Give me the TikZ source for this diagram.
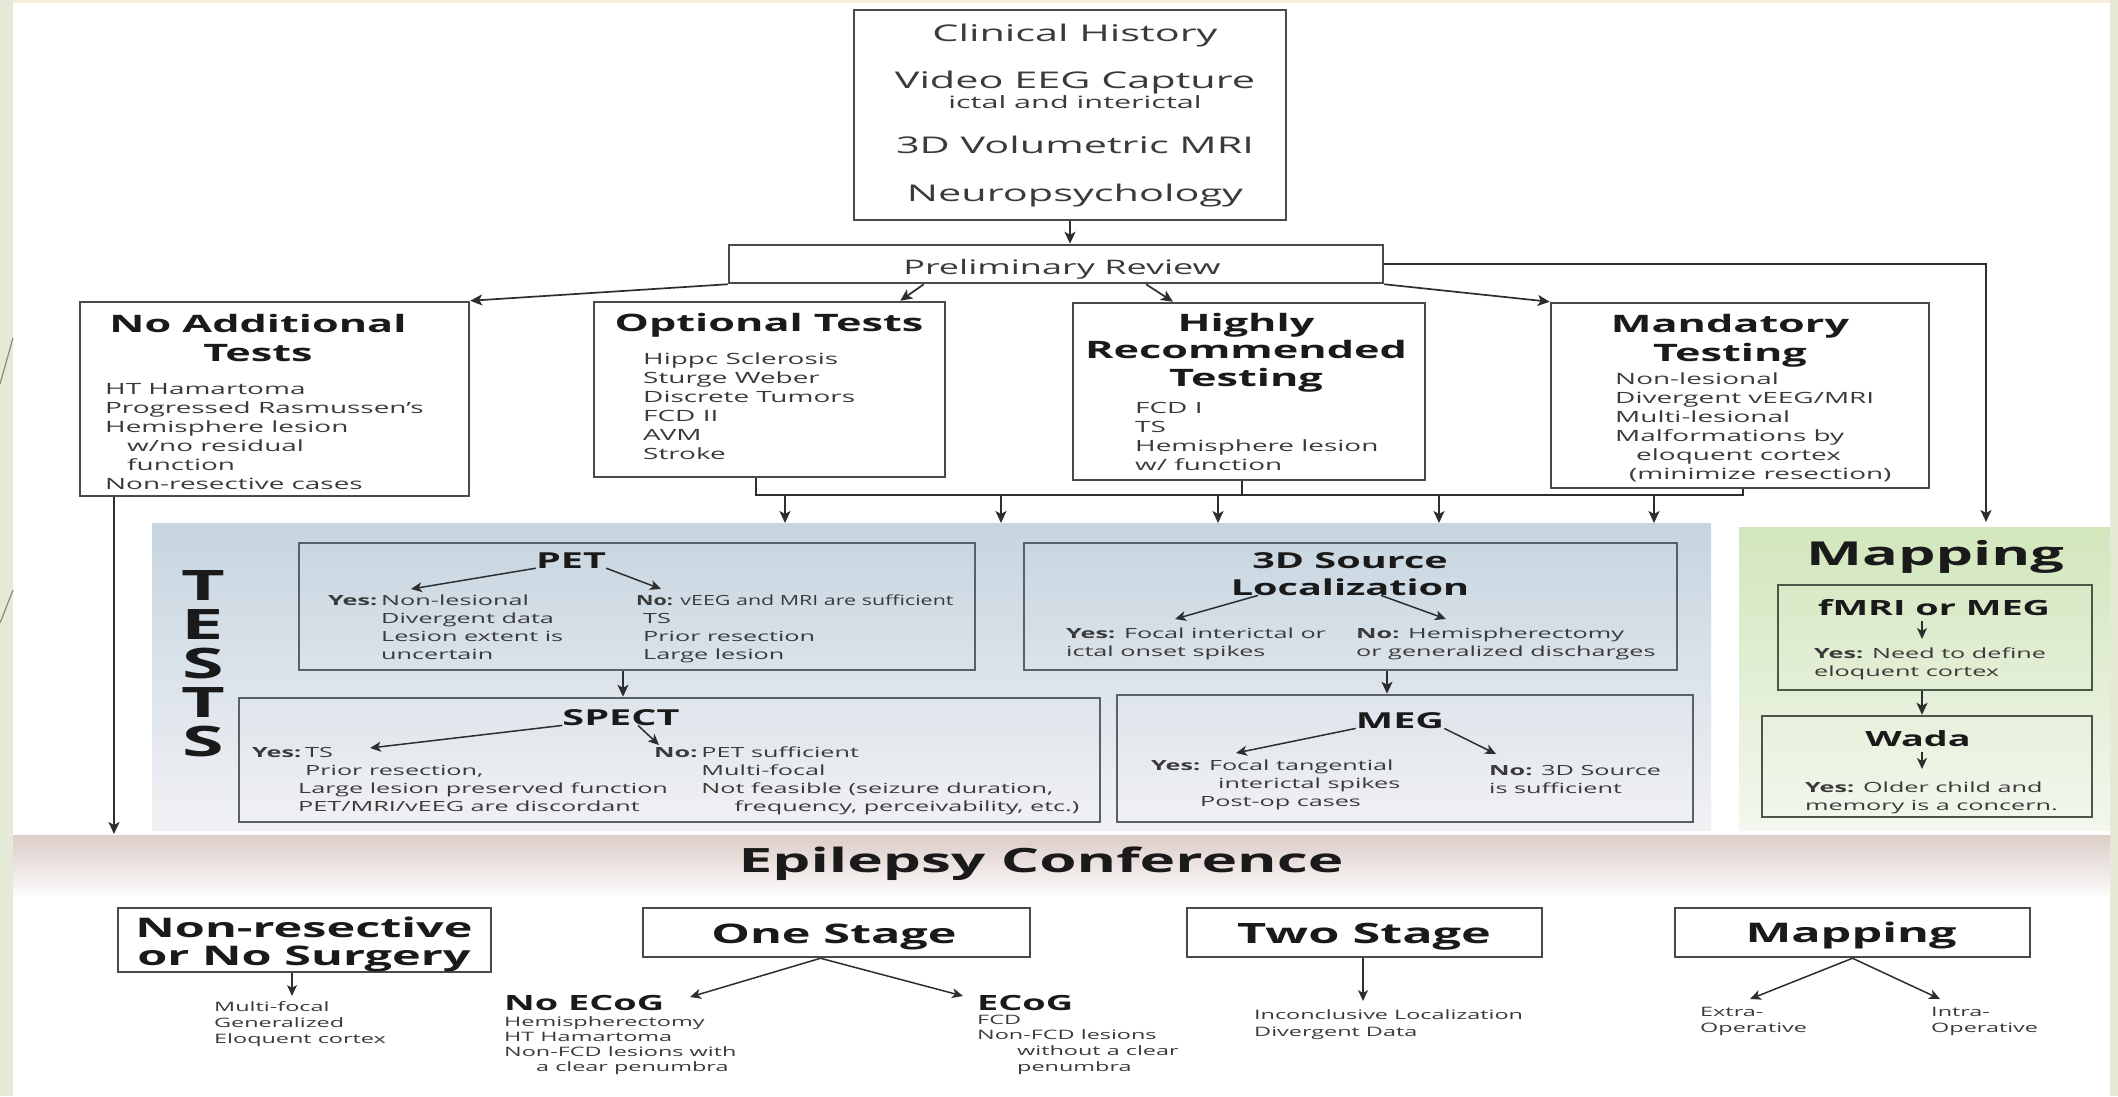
\documentclass[tikz,border=0pt]{standalone}
\usepackage{graphicx}
\usepackage{fontspec}
\setmainfont{Open Sans}[FakeStretch=1.8]
\usetikzlibrary{arrows.meta}
\definecolor{stripc}{HTML}{E4EAD6}
\definecolor{peach}{HTML}{FBEBDD}
\definecolor{boxc}{HTML}{4A4A4A}
\definecolor{tboxc}{HTML}{596069}
\definecolor{mboxc}{HTML}{4C5846}
\definecolor{hdc}{HTML}{1A1A1A}
\definecolor{bdc}{HTML}{3A3A3A}
\definecolor{lnc}{HTML}{2E2E2E}
\definecolor{diagc}{HTML}{8C8B7A}
\definecolor{testtop}{HTML}{C6D5E0}
\definecolor{testbot}{HTML}{F1F1F4}
\definecolor{maptop}{HTML}{D2E6BC}
\definecolor{mapbot}{HTML}{F3F7EE}
\definecolor{conftop}{HTML}{DCCDC8}
\definecolor{confbot}{HTML}{FBFAFA}
\newcommand\fsz[2]{\fontsize{#1}{#2}\selectfont}
\newcommand\txrows[1]{\begin{tabular}[t]{@{}l@{}}#1\end{tabular}}
\newcommand\yesrows[1]{\begin{tabular}[t]{@{}l@{\hspace{0.28em}}l@{}}#1\end{tabular}}
\begin{document}
\begin{tikzpicture}[x=1pt,y=-1pt,
  box/.style={draw=boxc, line width=2.5pt, inner sep=0pt},
  tbox/.style={draw=tboxc, line width=2.5pt, inner sep=0pt},
  mbox/.style={draw=mboxc, line width=2.5pt, inner sep=0pt},
  panel/.style={inner sep=0pt, outer sep=0pt, draw=none},
  hd/.style={inner sep=0pt, anchor=base, text=hdc, font=\bfseries\fsz{24}{29}},
  th/.style={inner sep=0pt, anchor=base, text=hdc, font=\bfseries\fsz{22}{27}},
  bh/.style={inner sep=0pt, anchor=base, text=hdc, font=\bfseries\fsz{27}{28}},
  tt/.style={inner sep=0pt, anchor=base, text=bdc},
  body/.style={inner sep=0pt, anchor=base west, text=bdc, font=\fsz{15.5}{19}},
  tbody/.style={inner sep=0pt, anchor=base west, text=bdc, font=\fsz{14}{18}},
  sbody/.style={inner sep=0pt, anchor=base west, text=bdc, font=\fsz{13}{16}},
  ln/.style={draw=lnc, line width=1.7pt},
  arr/.style={ln, -{Stealth[length=12pt,width=11pt,inset=3pt]}},
  sarr/.style={ln, line width=1.5pt, -{Stealth[length=11pt,width=10pt,inset=3pt]}}]
\useasboundingbox (0,0) rectangle (2118,1096);
% background
\fill[white] (0,0) rectangle (2118,1096);
\fill[peach] (0,0) rectangle (2118,3);
\fill[stripc] (0,0) rectangle (13,1096);
\fill[stripc] (2110,0) rectangle (2118,1096);
\draw[diagc, line width=1.2pt] (13,338) -- (0,384);
\draw[diagc, line width=1.2pt] (13,590) -- (0,623);
% panels
\node[panel, top color=testtop, bottom color=testbot, minimum width=1559pt, minimum height=307pt] (tests) at (931.5,676.5) {};
\node[panel, top color=maptop, bottom color=mapbot, minimum width=371pt, minimum height=303pt] (mappanel) at (1924.5,678.5) {};
\node[panel, top color=conftop, bottom color=confbot, minimum width=2097pt, minimum height=60pt] (confband) at (1061.5,865) {};

% top box
\node[box, minimum width=432pt, minimum height=210pt] (top) at (1070,115) {};
\node[tt, font=\fsz{23}{28}] (ch) at (1075,41) {Clinical History};
\node[tt, font=\fsz{23}{28}] (veeg) at (1075,88) {Video EEG Capture};
\node[tt, font=\fsz{17}{20}] (ictal) at (1075,108) {ictal and interictal};
\node[tt, font=\fsz{23}{28}] (mri) at (1075,153) {3D Volumetric MRI};
\node[tt, font=\fsz{23}{28}] (neuro) at (1075,201) {Neuropsychology};

% preliminary review
\node[box, minimum width=654pt, minimum height=38pt] (prelim) at (1056,264) {};
\node[tt, font=\fsz{20}{24}] (prelimt) at (1062,274) {Preliminary Review};

% four category boxes
\node[box, minimum width=389pt, minimum height=194pt] (noadd) at (274.5,399) {};
\node[hd] (noaddt1) at (258,332) {No Additional};
\node[hd] (noaddt2) at (258,361) {Tests};
\node[body] (noaddb) at (105,394) {\txrows{HT Hamartoma\\Progressed Rasmussen's\\Hemisphere lesion\\\hspace{22pt}w/no residual\\\hspace{22pt}function\\Non-resective cases}};

\node[box, minimum width=351pt, minimum height=175pt] (opt) at (769.5,389.5) {};
\node[hd] (optt) at (769,331) {Optional Tests};
\node[body] (optb) at (643,364) {\txrows{Hippc Sclerosis\\Sturge Weber\\Discrete Tumors\\FCD II\\AVM\\Stroke}};

\node[box, minimum width=352pt, minimum height=177pt] (high) at (1249,391.5) {};
\node[hd] (hight1) at (1246,331) {Highly};
\node[hd] (hight2) at (1246,358) {Recommended};
\node[hd] (hight3) at (1246,386) {Testing};
\node[body] (highb) at (1135,413) {\txrows{FCD I\\TS\\Hemisphere lesion\\w/ function}};

\node[box, minimum width=378pt, minimum height=185pt] (mand) at (1740,395.5) {};
\node[hd] (mandt1) at (1730,332) {Mandatory};
\node[hd] (mandt2) at (1730,361) {Testing};
\node[body] (mandb) at (1615,384) {\txrows{Non-lesional\\Divergent vEEG/MRI\\Multi-lesional\\Malformations by\\\hspace{21pt}eloquent cortex\\\hspace{14pt}(minimize resection)}};

% TESTS letters
\node[tt, text=hdc, font=\bfseries\fsz{42}{44}] (tl1) at (203,600) {T};
\node[tt, text=hdc, font=\bfseries\fsz{42}{44}] (tl2) at (203,639) {E};
\node[tt, text=hdc, font=\bfseries\fsz{42}{44}] (tl3) at (203,678) {S};
\node[tt, text=hdc, font=\bfseries\fsz{42}{44}] (tl4) at (203,717) {T};
\node[tt, text=hdc, font=\bfseries\fsz{42}{44}] (tl5) at (203,756) {S};

% PET
\node[tbox, minimum width=676pt, minimum height=127pt] (pet) at (637,606.5) {};
\node[th] (pett) at (571,568) {PET};
\node[tbody] (petyes) at (328,605) {\yesrows{\textbf{Yes:} & Non-lesional\\ & Divergent data\\ & Lesion extent is\\ & uncertain}};
\node[tbody] (petno) at (636,605) {\txrows{\scalebox{0.85}[1]{\textbf{No:} vEEG and MRI are sufficient}\\\hspace{7pt}TS\\\hspace{7pt}Prior resection\\\hspace{7pt}Large lesion}};
\coordinate (petY) at (411,589);
\coordinate (petN) at (661,589);
\draw[sarr] (pett.south west) -- (petY);
\draw[sarr] (pett.south east) -- (petN);

% SPECT
\node[tbox, minimum width=861pt, minimum height=124pt] (spect) at (669.5,760) {};
\node[th] (spt) at (621,725) {SPECT};
\node[tbody] (spyes) at (252,757) {\yesrows{\textbf{Yes:} & TS\\ & Prior resection,\\ & \hspace{-7pt}Large lesion preserved function\\ & \hspace{-7pt}PET/MRI/vEEG are discordant}};
\node[tbody] (spno) at (654,757) {\yesrows{\textbf{No:} & PET sufficient\\ & Multi-focal\\ & Not feasible (seizure duration,\\ & \hspace{33pt}frequency, perceivability, etc.)}};
\coordinate (spY) at (370,748);
\coordinate (spN) at (659,745);
\draw[sarr] (spt.south west) -- (spY);
\draw[sarr] ([xshift=17pt]spt.south) -- (spN);
\draw[arr] ([xshift=-14pt]pet.south) -- ([xshift=-14pt]pet.south |- spect.north);

% 3D Source
\node[tbox, minimum width=653pt, minimum height=127pt] (src) at (1350.5,606.5) {};
\node[th] (srct1) at (1350,568) {3D Source};
\node[th] (srct2) at (1350,595) {Localization};
\node[tbody] (srcyes) at (1066,638) {\txrows{\textbf{Yes:} Focal interictal or\\ictal onset spikes}};
\node[tbody] (srcno) at (1356,638) {\txrows{\textbf{No:} Hemispherectomy\\or generalized discharges}};
\coordinate (srcY) at (1175,619);
\coordinate (srcN) at (1446,619);
\draw[sarr] ([xshift=-92pt]srct2.south) -- (srcY);
\draw[sarr] ([xshift=31pt]srct2.south) -- (srcN);

% MEG
\node[tbox, minimum width=576pt, minimum height=127pt] (meg) at (1405,758.5) {};
\node[th] (megt) at (1400,728) {MEG};
\node[tbody] (megyes) at (1151,770) {\txrows{\textbf{Yes:} Focal tangential\\\hspace{67pt}interictal spikes\\\hspace{49pt}Post-op cases}};
\node[tbody] (megno) at (1489,775) {\txrows{\textbf{No:} 3D Source\\is sufficient}};
\coordinate (megY) at (1236,753);
\coordinate (megN) at (1496,754);
\draw[sarr] (megt.south west) -- (megY);
\draw[sarr] (megt.south east) -- (megN);
\draw[arr] ([xshift=36.5pt]src.south) -- ([xshift=36.5pt]src.south |- meg.north);

% Mapping panel
\node[tt, text=hdc, font=\bfseries\fsz{33}{36}] (mapt) at (1935,565) {Mapping};
\node[mbox, minimum width=314pt, minimum height=105pt] (fmri) at (1935,637.5) {};
\node[th, font=\bfseries\fsz{21}{25}] (fmt) at (1934,615) {fMRI or MEG};
\node[tbody] (fmyes) at (1814,658) {\txrows{\textbf{Yes:} Need to define\\eloquent cortex}};
\coordinate (fmY) at (1922,639);
\draw[sarr] ([xshift=-12pt,yshift=-6pt]fmt.south) -- (fmY);
\node[mbox, minimum width=330pt, minimum height=101pt] (wada) at (1927,766.5) {};
\node[th, font=\bfseries\fsz{21}{25}] (wdt) at (1918,746) {Wada};
\node[tbody] (wdyes) at (1805,792) {\txrows{\textbf{Yes:} Older child and\\memory is a concern.}};
\coordinate (wdY) at (1922,769);
\draw[sarr] ([xshift=4pt,yshift=-6pt]wdt.south) -- (wdY);
\draw[arr] ([xshift=-13pt]fmri.south) -- ([xshift=-13pt]fmri.south |- wada.north);

% connectors from top
\draw[arr] (top.south) -- (top.south |- prelim.north);
\draw[arr] (prelim.south west) -- (noadd.north east);
\draw[arr] ([xshift=196pt]prelim.south west) -- ([xshift=-46pt]opt.north east);
\draw[arr] ([xshift=90pt]prelim.south) -- ([xshift=-76pt]high.north);
\draw[arr] (prelim.south east) -- (mand.north west);
\coordinate (mapin) at (1986,522);
\draw[arr] (prelim.east) -| (mapin);
\coordinate (confin) at (114,834);
\draw[arr] (noadd.south -| confin) -- (confin);
% bus
\coordinate (busL) at (756,495);
\coordinate (busR) at (1743,495);
\draw[ln] (opt.south -| busL) -- (busL) -- (busR) -- (busR |- mand.south);
\draw[ln] ([xshift=-7pt]high.south) -- ([xshift=-7pt]high.south |- busL);
\foreach \x [count=\i] in {785,1001,1218,1439,1654} {
  \coordinate (bus\i) at (\x,495);
  \draw[arr] (bus\i) -- (bus\i |- tests.north);
}

% conference
\node[tt, text=hdc, font=\bfseries\fsz{33.5}{36}] (conf) at (1041,872) {Epilepsy Conference};

% bottom row
\node[box, minimum width=373pt, minimum height=64pt] (nonres) at (304.5,940) {};
\node[bh] (nonrest1) at (304,937) {Non-resective};
\node[bh] (nonrest2) at (304,965) {or No Surgery};
\node[sbody] (nonresb) at (214,1011) {\txrows{Multi-focal\\Generalized\\Eloquent cortex}};
\coordinate (nrT) at (292,996);
\draw[sarr] ([xshift=-12.5pt]nonres.south) -- (nrT);

\node[box, minimum width=387pt, minimum height=49pt] (one) at (836.5,932.5) {};
\node[bh] (onet) at (834,943) {One Stage};
\node[th, anchor=base west, font=\bfseries\fsz{21}{25}] (noecog) at (504,1010) {No ECoG};
\node[sbody, font=\fsz{13}{15.3}] (noecogb) at (504,1026) {\txrows{Hemispherectomy\\HT Hamartoma\\Non-FCD lesions with\\\hspace{32pt}a clear penumbra}};
\node[th, anchor=base west, font=\bfseries\fsz{21}{25}] (ecog) at (977,1010) {ECoG};
\node[sbody, font=\fsz{13}{15.7}] (ecogb) at (977,1024) {\txrows{FCD\\Non-FCD lesions\\\hspace{40pt}without a clear\\\hspace{40pt}penumbra}};
\coordinate (oneL) at (690,997);
\coordinate (oneR) at (963,996);
\draw[sarr] ([xshift=-16pt]one.south) -- (oneL);
\draw[sarr] ([xshift=-16pt]one.south) -- (oneR);

\node[box, minimum width=355pt, minimum height=49pt] (two) at (1364.5,932.5) {};
\node[bh, font=\bfseries\fsz{28}{29}] (twot) at (1364,943) {Two Stage};
\node[sbody, font=\fsz{13}{17}] (twob) at (1254,1019) {\txrows{Inconclusive Localization\\Divergent Data}};
\coordinate (twoT) at (1363,1001);
\draw[sarr] (two.south -| twoT) -- (twoT);

\node[box, minimum width=355pt, minimum height=49pt] (mapb) at (1852.5,932.5) {};
\node[bh] (mapbt) at (1851,942) {Mapping};
\node[sbody] (extra) at (1700,1016) {\txrows{Extra-\\Operative}};
\node[sbody] (intra) at (1931,1016) {\txrows{Intra-\\Operative}};
\coordinate (mapL) at (1750,999);
\coordinate (mapR) at (1940,999);
\draw[sarr] (mapb.south) -- (mapL);
\draw[sarr] (mapb.south) -- (mapR);
\end{tikzpicture}
\end{document}
